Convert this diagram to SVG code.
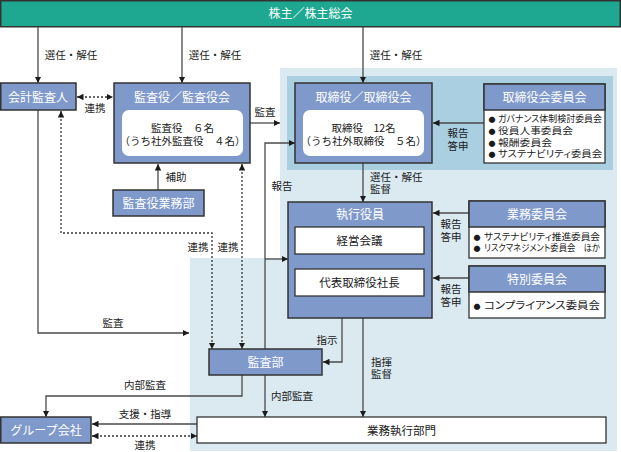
<svg xmlns="http://www.w3.org/2000/svg" width="621" height="452" viewBox="0 0 621 452">
<defs>
<style>
text{font-family:"Noto Sans CJK JP","Noto Sans CJK SC",sans-serif;fill:#1a1a1a}
.t{font-size:12px;fill:#fff;text-anchor:middle}
.b{font-size:11.5px;text-anchor:middle}
.in{font-size:10.5px;text-anchor:middle}
.l{font-size:10.5px;text-anchor:middle}
.ls{font-size:10.5px}
.bl{font-size:9.5px;font-feature-settings:"palt"}
.dot{font-size:7px}
.box{fill:#7f99cb;stroke:#333;stroke-width:1.5}
.wb{fill:#fff;stroke:#333;stroke-width:1.3}
.iw{fill:#fff;stroke:none}
.c{fill:none;stroke:#4a4a4a;stroke-width:1.3}
.d{fill:none;stroke:#333;stroke-width:1.3;stroke-dasharray:2 2}
</style>
<marker id="a" viewBox="0 0 8 8" refX="8" refY="4" markerWidth="6.5" markerHeight="6.5" markerUnits="userSpaceOnUse" orient="auto-start-reverse">
<path d="M0,0 L8,4 L0,8 z" fill="#1a1a1a"/>
</marker>
</defs>

<g id="background">
<path d="M280,68 H617 V451 H190 V258 H280 Z" fill="#dbe9f1"/>
<rect x="287" y="76" width="326" height="94" fill="#a9cfe0"/>
</g>

<g id="shareholders">
<rect x="0.75" y="0.75" width="619.5" height="26" fill="#1ea891" stroke="#333" stroke-width="1.5"/>
<text class="t" x="310.5" y="18">株主／株主総会</text>
</g>

<g id="connectors">
<path class="c" d="M38,27 V83" marker-end="url(#a)"/>
<path class="c" d="M182,27 V83" marker-end="url(#a)"/>
<path class="c" d="M363,27 V83" marker-end="url(#a)"/>
<path class="d" d="M77,97 H113" marker-start="url(#a)" marker-end="url(#a)"/>
<path class="c" d="M250,123 H280" marker-end="url(#a)"/>
<path class="c" d="M158,190 V164" marker-end="url(#a)"/>
<path class="c" d="M484,123 H433" marker-end="url(#a)"/>
<path class="c" d="M363,163 V202" marker-end="url(#a)"/>
<path class="c" d="M469,213 H433" marker-end="url(#a)"/>
<path class="c" d="M469,278 H433" marker-end="url(#a)"/>
<path class="d" d="M61,111 V233 H212 V349" marker-start="url(#a)" marker-end="url(#a)"/>
<path class="d" d="M242,164 V349" marker-start="url(#a)" marker-end="url(#a)"/>
<path class="c" d="M265,349 V143 H295" marker-end="url(#a)"/>
<path class="c" d="M265,259 H288" marker-end="url(#a)"/>
<path class="c" d="M38,110 V333 H189" marker-end="url(#a)"/>
<path class="c" d="M342,318 V362 H323" marker-end="url(#a)"/>
<path class="c" d="M363,318 V417" marker-end="url(#a)"/>
<path class="c" d="M265,375 V417" marker-end="url(#a)"/>
<path class="c" d="M242,375 V396 H46 V417" marker-end="url(#a)"/>
<path class="c" d="M197,424 H92" marker-end="url(#a)"/>
<path class="d" d="M92,436 H197" marker-start="url(#a)" marker-end="url(#a)"/>
</g>

<g id="labels">
<text class="l" x="71" y="59">選任・解任</text>
<text class="l" x="215" y="59">選任・解任</text>
<text class="l" x="396" y="59">選任・解任</text>
<text class="l" x="95" y="112">連携</text>
<text class="l" x="265" y="116">監査</text>
<text class="l" x="176" y="181">補助</text>
<text class="l" x="282" y="190">報告</text>
<text class="l" x="458" y="137">報告<tspan x="458" y="150">答申</tspan></text>
<text class="ls" x="370" y="181">選任・解任<tspan x="370" y="193">監督</tspan></text>
<text class="l" x="451" y="228">報告<tspan x="451" y="241">答申</tspan></text>
<text class="l" x="451" y="293">報告<tspan x="451" y="306">答申</tspan></text>
<text class="l" x="198" y="251">連携</text>
<text class="l" x="228" y="251">連携</text>
<text class="l" x="113" y="327">監査</text>
<text class="l" x="327" y="344">指示</text>
<text class="ls" x="371" y="366">指揮<tspan x="371" y="378">監督</tspan></text>
<text class="l" x="145" y="389">内部監査</text>
<text class="ls" x="271" y="400">内部監査</text>
<text class="l" x="145" y="418">支援・指導</text>
<text class="l" x="145" y="449">連携</text>
</g>

<g id="kaikei-kansanin">
<rect class="box" x="0.75" y="83" width="75.25" height="27"/>
<text class="t" x="38" y="101.5">会計監査人</text>
</g>

<g id="kansayaku-kai">
<rect class="box" x="114" y="83" width="136" height="80"/>
<text class="t" x="182" y="101.5">監査役／監査役会</text>
<rect class="iw" x="122" y="110" width="121" height="46" rx="7"/>
<text class="in" x="182.5" y="132">監査役　６名<tspan x="182.5" y="145">（うち社外監査役　４名）</tspan></text>
</g>

<g id="kansayaku-gyomubu">
<rect class="box" x="113" y="190" width="91" height="26"/>
<text class="t" x="158.5" y="207.5">監査役業務部</text>
</g>

<g id="torishimariyaku-kai">
<rect class="box" x="295" y="83" width="137" height="80"/>
<text class="t" x="363.5" y="101.5">取締役／取締役会</text>
<rect class="iw" x="303" y="110" width="121" height="46" rx="7"/>
<text class="in" x="363.5" y="132">取締役　12名<tspan x="363.5" y="145">（うち社外取締役　５名）</tspan></text>
</g>

<g id="torishimariyaku-iinkai">
<rect class="wb" x="484" y="84" width="121" height="79"/>
<rect class="box" x="484" y="84" width="121" height="26"/>
<text class="t" x="544.5" y="101.5">取締役会委員会</text>
<text class="dot" x="488.5" y="122">●<tspan x="488.5" y="134">●</tspan><tspan x="488.5" y="145.5">●</tspan><tspan x="488.5" y="157">●</tspan></text>
<text class="bl" x="498" y="122.4"><tspan x="498" y="122.4" textLength="104" lengthAdjust="spacingAndGlyphs">ガバナンス体制検討委員会</tspan><tspan x="498" y="134.2" textLength="75" lengthAdjust="spacingAndGlyphs">役員人事委員会</tspan><tspan x="498" y="145.7" textLength="54" lengthAdjust="spacingAndGlyphs">報酬委員会</tspan><tspan x="498" y="157.2" textLength="104" lengthAdjust="spacingAndGlyphs">サステナビリティ委員会</tspan></text>
</g>

<g id="shikko-yakuin">
<rect class="box" x="288" y="202" width="144" height="116"/>
<text class="t" x="360" y="218.5">執行役員</text>
<rect class="wb" x="295" y="227" width="129" height="27"/>
<text class="b" x="359.5" y="245">経営会議</text>
<rect class="wb" x="295" y="269" width="129" height="27"/>
<text class="b" x="359.5" y="287">代表取締役社長</text>
</g>

<g id="gyomu-iinkai">
<rect class="wb" x="469" y="201" width="136" height="57"/>
<rect class="box" x="469" y="201" width="136" height="26"/>
<text class="t" x="537" y="218.5">業務委員会</text>
<text class="dot" x="473.5" y="239.5">●<tspan x="473.5" y="251">●</tspan></text>
<text class="bl" x="484" y="240"><tspan x="484" y="240" textLength="116" lengthAdjust="spacingAndGlyphs">サステナビリティ推進委員会</tspan><tspan x="484" y="251.3" textLength="116" lengthAdjust="spacingAndGlyphs">リスクマネジメント委員会　ほか</tspan></text>
</g>

<g id="tokubetsu-iinkai">
<rect class="wb" x="469" y="266" width="136" height="52"/>
<rect class="box" x="469" y="266" width="136" height="26"/>
<text class="t" x="537" y="283.5">特別委員会</text>
<text class="dot" x="473.5" y="308.5">●</text>
<text class="bl" x="484" y="309.3" textLength="116" lengthAdjust="spacingAndGlyphs" style="font-size:10.5px">コンプライアンス委員会</text>
</g>

<g id="kansabu">
<rect class="box" x="209" y="349" width="113" height="26"/>
<text class="t" x="265.5" y="366.5">監査部</text>
</g>

<g id="group-kaisha">
<rect class="box" x="0.75" y="417" width="90.25" height="26"/>
<text class="t" x="46" y="434.5">グループ会社</text>
</g>

<g id="gyomu-shikko-bumon">
<rect class="wb" x="197" y="417" width="409" height="26"/>
<text class="b" x="401.5" y="434.5">業務執行部門</text>
</g>
</svg>
